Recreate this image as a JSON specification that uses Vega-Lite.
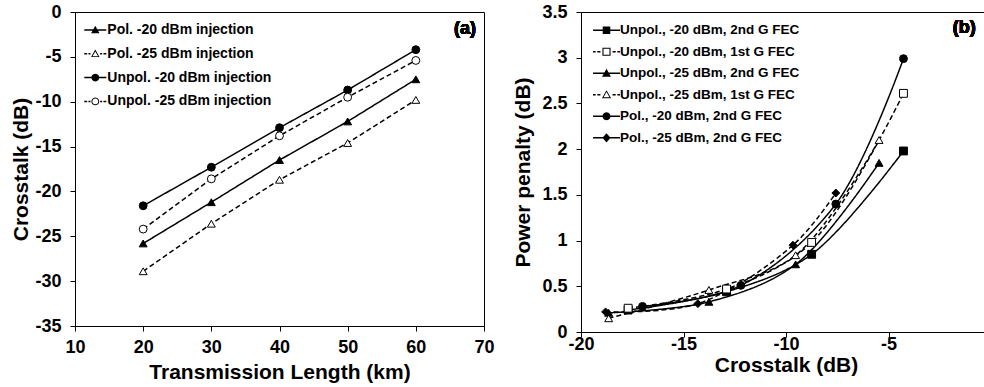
{
  "$schema": "https://vega.github.io/schema/vega-lite/v6.json",
  "padding": {"left": 10, "top": 2, "right": 0, "bottom": 0},
  "background": "white",
  "spacing": 17,
  "datasets": {
    "a": [
      {"series": "Pol. -20 dBm injection", "x": 20, "y": -25.8},
      {"series": "Pol. -20 dBm injection", "x": 30, "y": -21.2},
      {"series": "Pol. -20 dBm injection", "x": 40, "y": -16.5},
      {"series": "Pol. -20 dBm injection", "x": 50, "y": -12.2},
      {"series": "Pol. -20 dBm injection", "x": 60, "y": -7.5},
      {"series": "Pol. -25 dBm injection", "x": 20, "y": -28.9},
      {"series": "Pol. -25 dBm injection", "x": 30, "y": -23.6},
      {"series": "Pol. -25 dBm injection", "x": 40, "y": -18.7},
      {"series": "Pol. -25 dBm injection", "x": 50, "y": -14.6},
      {"series": "Pol. -25 dBm injection", "x": 60, "y": -9.8},
      {"series": "Unpol. -20 dBm injection", "x": 20, "y": -21.6},
      {"series": "Unpol. -20 dBm injection", "x": 30, "y": -17.3},
      {"series": "Unpol. -20 dBm injection", "x": 40, "y": -12.9},
      {"series": "Unpol. -20 dBm injection", "x": 50, "y": -8.7},
      {"series": "Unpol. -20 dBm injection", "x": 60, "y": -4.2},
      {"series": "Unpol. -25 dBm injection", "x": 20, "y": -24.2},
      {"series": "Unpol. -25 dBm injection", "x": 30, "y": -18.6},
      {"series": "Unpol. -25 dBm injection", "x": 40, "y": -13.8},
      {"series": "Unpol. -25 dBm injection", "x": 50, "y": -9.5},
      {"series": "Unpol. -25 dBm injection", "x": 60, "y": -5.4}
    ],
    "b": [
      {"series": "Unpol., -20 dBm, 2nd G FEC", "x": -17.7, "y": 0.24},
      {"series": "Unpol., -20 dBm, 2nd G FEC", "x": -12.9, "y": 0.44},
      {"series": "Unpol., -20 dBm, 2nd G FEC", "x": -8.75, "y": 0.85},
      {"series": "Unpol., -20 dBm, 2nd G FEC", "x": -4.27, "y": 1.98},
      {"series": "Unpol., -20 dBm, 1st G FEC", "x": -17.7, "y": 0.26},
      {"series": "Unpol., -20 dBm, 1st G FEC", "x": -12.9, "y": 0.47},
      {"series": "Unpol., -20 dBm, 1st G FEC", "x": -8.75, "y": 0.98},
      {"series": "Unpol., -20 dBm, 1st G FEC", "x": -4.27, "y": 2.61},
      {"series": "Unpol., -25 dBm, 2nd G FEC", "x": -18.65, "y": 0.21},
      {"series": "Unpol., -25 dBm, 2nd G FEC", "x": -13.76, "y": 0.33},
      {"series": "Unpol., -25 dBm, 2nd G FEC", "x": -9.53, "y": 0.74},
      {"series": "Unpol., -25 dBm, 2nd G FEC", "x": -5.46, "y": 1.85},
      {"series": "Unpol., -25 dBm, 1st G FEC", "x": -18.65, "y": 0.15},
      {"series": "Unpol., -25 dBm, 1st G FEC", "x": -13.76, "y": 0.46},
      {"series": "Unpol., -25 dBm, 1st G FEC", "x": -9.53, "y": 0.84},
      {"series": "Unpol., -25 dBm, 1st G FEC", "x": -5.46, "y": 2.1},
      {"series": "Pol., -20 dBm, 2nd G FEC", "x": -17.0, "y": 0.28},
      {"series": "Pol., -20 dBm, 2nd G FEC", "x": -12.2, "y": 0.51},
      {"series": "Pol., -20 dBm, 2nd G FEC", "x": -7.57, "y": 1.4},
      {"series": "Pol., -20 dBm, 2nd G FEC", "x": -4.27, "y": 2.99},
      {"series": "Pol., -25 dBm, 2nd G FEC", "x": -18.8, "y": 0.22},
      {"series": "Pol., -25 dBm, 2nd G FEC", "x": -14.3, "y": 0.31},
      {"series": "Pol., -25 dBm, 2nd G FEC", "x": -9.66, "y": 0.95},
      {"series": "Pol., -25 dBm, 2nd G FEC", "x": -7.57, "y": 1.52}
    ]
  },
  "hconcat": [
    {
      "width": 409,
      "height": 314,
      "data": {"name": "a"},
      "layer": [
        {
          "mark": {"type": "line", "color": "black", "strokeWidth": 1.5},
          "encoding": {
            "x": {"field": "x", "type": "quantitative", "scale": {"domain": [10, 70], "nice": false, "zero": false}, "axis": {"values": [10, 20, 30, 40, 50, 60, 70], "title": "Transmission Length (km)", "labelPadding": 7, "titlePadding": 5}},
            "y": {"field": "y", "type": "quantitative", "scale": {"domain": [-35, 0], "nice": false, "zero": false}, "axis": {"values": [-35, -30, -25, -20, -15, -10, -5, 0], "title": "Crosstalk (dB)", "titlePadding": 3}},
            "detail": {"field": "series"},
            "strokeDash": {"field": "series", "scale": {"domain": ["Pol. -20 dBm injection", "Pol. -25 dBm injection", "Unpol. -20 dBm injection", "Unpol. -25 dBm injection"], "range": [[1, 0], [5, 3], [1, 0], [5, 3]]}, "legend": null}
          }
        },
        {
          "mark": {"type": "point", "opacity": 1, "stroke": "black", "strokeWidth": 1},
          "encoding": {
            "x": {"field": "x", "type": "quantitative"},
            "y": {"field": "y", "type": "quantitative"},
            "shape": {"field": "series", "scale": {"domain": ["Pol. -20 dBm injection", "Pol. -25 dBm injection", "Unpol. -20 dBm injection", "Unpol. -25 dBm injection"], "range": ["triangle-up", "triangle-up", "circle", "circle"]}, "legend": null},
            "fill": {"field": "series", "scale": {"domain": ["Pol. -20 dBm injection", "Pol. -25 dBm injection", "Unpol. -20 dBm injection", "Unpol. -25 dBm injection"], "range": ["black", "white", "black", "white"]}, "legend": null},
            "size": {"field": "series", "scale": {"domain": ["Pol. -20 dBm injection", "Pol. -25 dBm injection", "Unpol. -20 dBm injection", "Unpol. -25 dBm injection"], "range": [62, 62, 50, 50]}, "legend": null}
          }
        },
        {
          "transform": [{"filter": "false"}],
          "mark": {"type": "point", "opacity": 1, "filled": true, "color": "black"},
          "encoding": {
            "x": {"field": "x", "type": "quantitative"},
            "y": {"field": "y", "type": "quantitative"},
            "shape": {"field": "series", "scale": {"domain": ["Pol. -20 dBm injection", "Pol. -25 dBm injection", "Unpol. -20 dBm injection", "Unpol. -25 dBm injection"], "range": [
              "M-1,-0.068H1V0.068H-1ZM-0.38,0.3L0,-0.38L0.38,0.3Z",
              "M-1,-0.068H-0.74V0.068H-1ZM-0.62,-0.068H-0.44V0.068H-0.62ZM0.44,-0.068H0.62V0.068H0.44ZM0.74,-0.068H1V0.068H0.74ZM-0.38,0.3L0,-0.38L0.38,0.3ZM-0.25,0.225L0.25,0.225L0,-0.22Z",
              "M-1,-0.068H1V0.068H-1ZM0.36,0L0.312,0.18L0.18,0.312L0,0.36L-0.18,0.312L-0.312,0.18L-0.36,0L-0.312,-0.18L-0.18,-0.312L0,-0.36L0.18,-0.312L0.312,-0.18Z",
              "M-1,-0.068H-0.74V0.068H-1ZM-0.62,-0.068H-0.44V0.068H-0.62ZM0.44,-0.068H0.62V0.068H0.44ZM0.74,-0.068H1V0.068H0.74ZM0.36,0L0.312,0.18L0.18,0.312L0,0.36L-0.18,0.312L-0.312,0.18L-0.36,0L-0.312,-0.18L-0.18,-0.312L0,-0.36L0.18,-0.312L0.312,-0.18ZM0.27,0L0.234,-0.135L0.135,-0.234L0,-0.27L-0.135,-0.234L-0.234,-0.135L-0.27,0L-0.234,0.135L-0.135,0.234L0,0.27L0.135,0.234L0.234,0.135Z"
            ]}, "legend": {"orient": "none", "legendX": 9.3, "legendY": 7, "title": null, "symbolSize": 484, "symbolStrokeWidth": 0, "labelFontSize": 14, "labelOffset": 1, "rowPadding": 5.8}}
          }
        },
        {
          "mark": {"type": "text", "text": "(a)", "font": "Liberation Sans", "fontSize": 18, "fontWeight": "bold", "color": "black"},
          "encoding": {
            "x": {"datum": 67.2, "type": "quantitative"},
            "y": {"datum": -1.9, "type": "quantitative"}
          }
        }
      ],
      "resolve": {"scale": {"shape": "independent", "fill": "independent"}}
    },
    {
      "width": 410,
      "height": 320,
      "data": {"name": "b"},
      "layer": [
        {
          "mark": {"type": "line", "color": "black", "strokeWidth": 1.5, "interpolate": "catmull-rom"},
          "encoding": {
            "x": {"field": "x", "type": "quantitative", "scale": {"domain": [-20, 0], "nice": false, "zero": false}, "axis": {"values": [-20, -15, -10, -5, 0], "title": "Crosstalk (dB)", "labelPadding": -2, "titlePadding": 1}},
            "y": {"field": "y", "type": "quantitative", "scale": {"domain": [0, 3.5], "nice": false, "zero": false}, "axis": {"values": [0, 0.5, 1, 1.5, 2, 2.5, 3, 3.5], "format": "~g", "title": "Power penalty (dB)", "titlePadding": 8}},
            "detail": {"field": "series"},
            "strokeDash": {"field": "series", "scale": {"domain": ["Unpol., -20 dBm, 2nd G FEC", "Unpol., -20 dBm, 1st G FEC", "Unpol., -25 dBm, 2nd G FEC", "Unpol., -25 dBm, 1st G FEC", "Pol., -20 dBm, 2nd G FEC", "Pol., -25 dBm, 2nd G FEC"], "range": [[1, 0], [5, 3], [1, 0], [5, 3], [1, 0], [1, 0]]}, "legend": null}
          }
        },
        {
          "mark": {"type": "point", "opacity": 1, "stroke": "black", "strokeWidth": 1},
          "encoding": {
            "x": {"field": "x", "type": "quantitative"},
            "y": {"field": "y", "type": "quantitative"},
            "shape": {"field": "series", "scale": {"domain": ["Unpol., -20 dBm, 2nd G FEC", "Unpol., -20 dBm, 1st G FEC", "Unpol., -25 dBm, 2nd G FEC", "Unpol., -25 dBm, 1st G FEC", "Pol., -20 dBm, 2nd G FEC", "Pol., -25 dBm, 2nd G FEC"], "range": ["square", "square", "triangle-up", "triangle-up", "circle", "diamond"]}, "legend": null},
            "fill": {"field": "series", "scale": {"domain": ["Unpol., -20 dBm, 2nd G FEC", "Unpol., -20 dBm, 1st G FEC", "Unpol., -25 dBm, 2nd G FEC", "Unpol., -25 dBm, 1st G FEC", "Pol., -20 dBm, 2nd G FEC", "Pol., -25 dBm, 2nd G FEC"], "range": ["black", "white", "black", "white", "black", "black"]}, "legend": null},
            "size": {"field": "series", "scale": {"domain": ["Unpol., -20 dBm, 2nd G FEC", "Unpol., -20 dBm, 1st G FEC", "Unpol., -25 dBm, 2nd G FEC", "Unpol., -25 dBm, 1st G FEC", "Pol., -20 dBm, 2nd G FEC", "Pol., -25 dBm, 2nd G FEC"], "range": [42, 42, 55, 55, 45, 55]}, "legend": null}
          }
        },
        {
          "transform": [{"filter": "false"}],
          "mark": {"type": "point", "opacity": 1, "filled": true, "color": "black"},
          "encoding": {
            "x": {"field": "x", "type": "quantitative"},
            "y": {"field": "y", "type": "quantitative"},
            "shape": {"field": "series", "scale": {"domain": ["Unpol., -20 dBm, 2nd G FEC", "Unpol., -20 dBm, 1st G FEC", "Unpol., -25 dBm, 2nd G FEC", "Unpol., -25 dBm, 1st G FEC", "Pol., -20 dBm, 2nd G FEC", "Pol., -25 dBm, 2nd G FEC"], "range": [
              "M-1,-0.056H1V0.056H-1ZM-0.28,-0.28H0.28V0.28H-0.28Z",
              "M-1,-0.056H-0.8V0.056H-1ZM-0.68,-0.056H-0.45V0.056H-0.68ZM0.45,-0.056H0.68V0.056H0.45ZM0.8,-0.056H1V0.056H0.8ZM-0.3,-0.3H0.3V0.3H-0.3ZM-0.22,-0.22V0.22H0.22V-0.22Z",
              "M-1,-0.056H1V0.056H-1ZM-0.33,0.26L0,-0.34L0.33,0.26Z",
              "M-1,-0.056H-0.8V0.056H-1ZM-0.68,-0.056H-0.45V0.056H-0.68ZM0.45,-0.056H0.68V0.056H0.45ZM0.8,-0.056H1V0.056H0.8ZM-0.34,0.26L0,-0.34L0.34,0.26ZM-0.22,0.19L0.22,0.19L0,-0.2Z",
              "M-1,-0.056H1V0.056H-1ZM0.3,0L0.26,0.15L0.15,0.26L0,0.3L-0.15,0.26L-0.26,0.15L-0.3,0L-0.26,-0.15L-0.15,-0.26L0,-0.3L0.15,-0.26L0.26,-0.15Z",
              "M-1,-0.056H1V0.056H-1ZM0,-0.34L0.3,0L0,0.34L-0.3,0Z"
            ]}, "legend": {"orient": "none", "legendX": 12, "legendY": 4.8, "title": null, "symbolSize": 729, "symbolStrokeWidth": 0, "labelFontSize": 13.5, "labelOffset": 0, "rowPadding": 1.5}}
          }
        },
        {
          "mark": {"type": "text", "text": "(b)", "font": "Liberation Sans", "fontSize": 18, "fontWeight": "bold", "color": "black"},
          "encoding": {
            "x": {"datum": -1.3, "type": "quantitative"},
            "y": {"datum": 3.33, "type": "quantitative"}
          }
        }
      ],
      "resolve": {"scale": {"shape": "independent", "fill": "independent"}}
    }
  ],
  "config": {
    "font": "Liberation Sans",
    "locale": {"number": {"decimal": ".", "thousands": ",", "grouping": [3], "currency": ["$", ""], "minus": "-"}},
    "view": {"stroke": "black", "strokeWidth": 1},
    "axis": {
      "grid": false,
      "domainColor": "black",
      "tickColor": "black",
      "labelColor": "black",
      "titleColor": "black",
      "labelFont": "Liberation Sans",
      "titleFont": "Liberation Sans",
      "labelFontSize": 18,
      "labelFontWeight": "bold",
      "titleFontSize": 21,
      "titleFontWeight": "bold",
      "tickSize": 5,
      "labelPadding": 9,
      "labelFlush": false,
      "labelOverlap": false
    },
    "legend": {
      "labelFont": "Liberation Sans",
      "labelFontWeight": "bold",
      "labelColor": "black",
      "labelLimit": 0,
      "padding": 0
    }
  }
}
